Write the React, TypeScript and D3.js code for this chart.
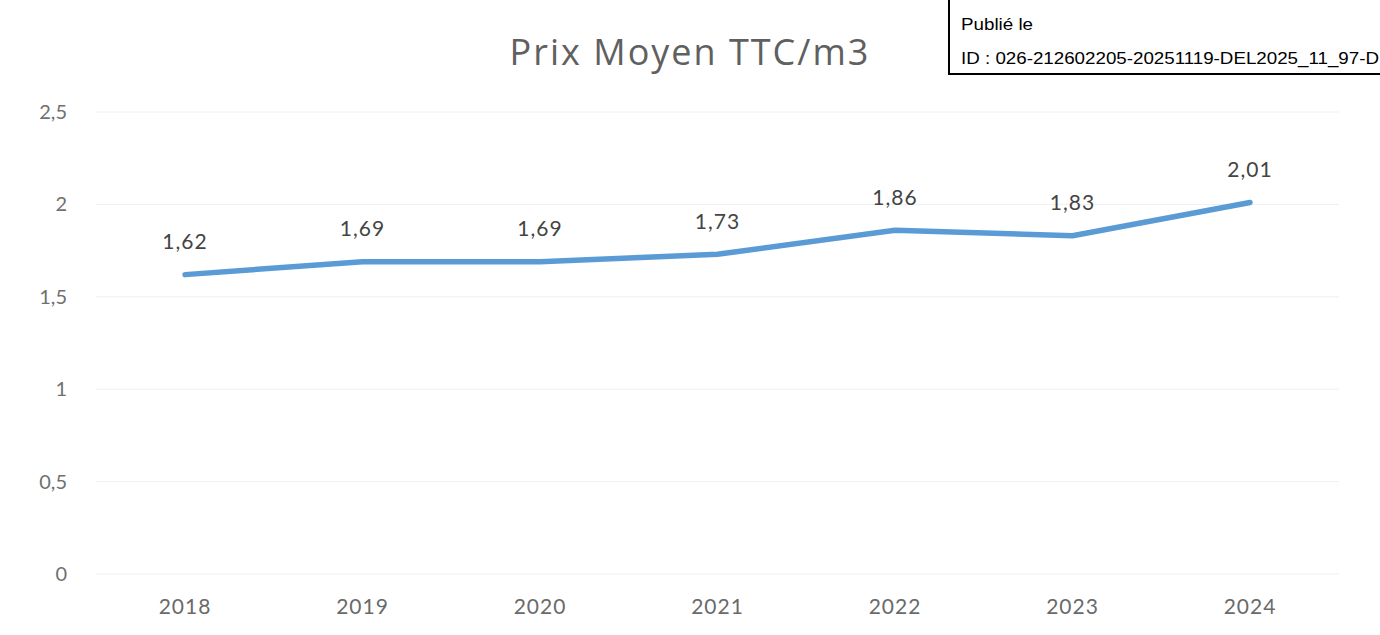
import * as d3 from 'd3';

const years = ['2018', '2019', '2020', '2021', '2022', '2023', '2024'];
const prices = [1.62, 1.69, 1.69, 1.73, 1.86, 1.83, 2.01];
const yTicks = [0, 0.5, 1, 1.5, 2, 2.5];

const fmt = (v: number) => String(v).replace('.', ',');

const App = () => {
  const width = 1380;
  const height = 635;

  const x = d3.scalePoint<string>().domain(years).range([185, 1250]);
  const y = d3.scaleLinear().domain([0, 2.5]).range([574, 112]);

  const line = d3
    .line<number>()
    .x((_, i) => x(years[i]) as number)
    .y((d) => y(d));

  return (
    <svg
      width={width}
      height={height}
      style={{ position: 'absolute', left: 0, top: 0, background: '#fff' }}
    >
      {/* gridlines */}
      {yTicks.map((t) => (
        <line
          key={'g' + t}
          x1={96}
          x2={1339}
          y1={y(t)}
          y2={y(t)}
          stroke="#f0f0f0"
          strokeWidth={1}
        />
      ))}
      {/* y labels */}
      {yTicks.map((t) => (
        <text
          key={'y' + t}
          x={67}
          y={y(t)}
          dy="0.35em"
          textAnchor="end"
          fontFamily="Lato, 'Open Sans', sans-serif"
          fontSize={20}
          fill="#707070"
        >
          {fmt(t)}
        </text>
      ))}
      {/* x labels */}
      {years.map((yr) => (
        <text
          key={'x' + yr}
          x={x(yr)}
          y={607}
          dy="0.35em"
          textAnchor="middle"
          fontFamily="Lato, 'Open Sans', sans-serif"
          fontSize={21}
          fill="#6a6a6a"
          letterSpacing={1}
        >
          {yr}
        </text>
      ))}
      <text
        x={690}
        y={52}
        dy="0.35em"
        textAnchor="middle"
        fontFamily="'Open Sans', Lato, sans-serif"
        fontSize={36}
        fill="#606060"
        letterSpacing={2}
      >
        Prix Moyen TTC/m3
      </text>
      <path
        d={line(prices) ?? ''}
        fill="none"
        stroke="#5b9bd5"
        strokeWidth={5.5}
        strokeLinecap="round"
        strokeLinejoin="round"
      />
      {prices.map((p, i) => (
        <text
          key={'l' + i}
          x={x(years[i])}
          y={y(p) - 33}
          dy="0.35em"
          textAnchor="middle"
          fontFamily="Lato, 'Open Sans', sans-serif"
          fontSize={21}
          fill="#444"
          letterSpacing={1}
        >
          {fmt(p)}
        </text>
      ))}
      {/* stamp box */}
      <rect x={949} y={-2} width={440} height={76} fill="#fff" stroke="#000" strokeWidth={2} />
      <text x={961} y={30} fontFamily="'Liberation Sans', Arial, sans-serif" fontSize={16} fill="#000" textLength={72} lengthAdjust="spacingAndGlyphs">
        Publié le
      </text>
      <text x={961} y={64} fontFamily="'Liberation Sans', Arial, sans-serif" fontSize={16} fill="#000" textLength={418} lengthAdjust="spacingAndGlyphs">
        ID : 026-212602205-20251119-DEL2025_11_97-D
      </text>
    </svg>
  );
};

export default App;
